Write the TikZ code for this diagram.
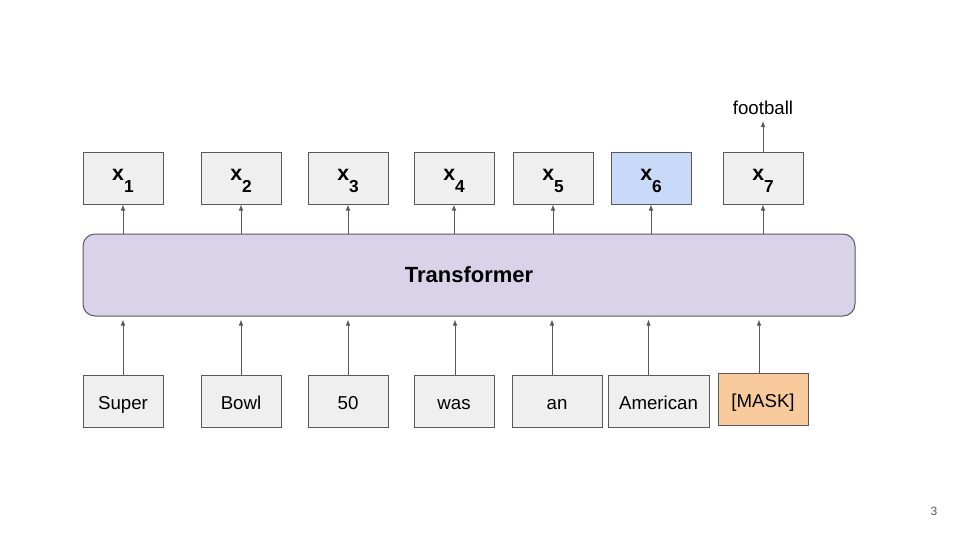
\documentclass[tikz,border=0pt]{standalone}
\usepackage{fontspec}
\setmainfont{Liberation Sans}
\usetikzlibrary{arrows.meta}
\definecolor{boxgray}{HTML}{EFEFEF}
\definecolor{linegray}{HTML}{595959}
\definecolor{bluefill}{HTML}{C9DAF8}
\definecolor{orangefill}{HTML}{F9CB9C}
\definecolor{purplefill}{HTML}{D9D2E9}
\newcommand{\xlab}[1]{\fontsize{16}{18}\selectfont\bfseries x\raisebox{-8.5pt}{\fontsize{13}{15}\selectfont #1}}
\tikzset{
  tokbox/.style={draw=linegray, fill=boxgray, line width=0.75pt, inner sep=0pt,
    minimum width=60pt, minimum height=39pt, font=\fontsize{14}{16}\selectfont,
    text height=12.4pt, text depth=0pt},
  outbox/.style={draw=linegray, fill=boxgray, line width=0.75pt, inner sep=0pt,
    minimum width=60pt, minimum height=39pt, text height=4pt, text depth=0pt},
  arr/.style={draw=linegray, line width=0.75pt, -{Latex[length=4.5pt,width=3.5pt]}},
}
\begin{document}
\begin{tikzpicture}[x=0.75pt,y=-0.75pt]
\useasboundingbox (0,0) rectangle (960,540);
% transformer
\node[draw=linegray, fill=purplefill, line width=0.75pt, rounded corners=9pt,
  minimum width=579pt, minimum height=61.5pt, inner sep=0pt,
  font=\fontsize{16.5}{18}\selectfont\bfseries] (tf) at (469,275) {Transformer};
% top outputs
\node[outbox] (x1) at (123,178) {\xlab{1}};
\node[outbox] (x2) at (241,178) {\xlab{2}};
\node[outbox] (x3) at (348,178) {\xlab{3}};
\node[outbox] (x4) at (454,178) {\xlab{4}};
\node[outbox] (x5) at (553,178) {\xlab{5}};
\node[outbox, fill=bluefill] (x6) at (651,178) {\xlab{6}};
\node[outbox] (x7) at (763,178) {\xlab{7}};
\node[font=\fontsize{14}{16}\selectfont, inner sep=0pt] (fb) at (763,108) {football};
\coordinate (fbend) at (763,121);
% bottom inputs
\node[tokbox] (t1) at (123,401) {Super};
\node[tokbox] (t2) at (241,401) {Bowl};
\node[tokbox] (t3) at (348,401) {50};
\node[tokbox] (t4) at (454,401) {was};
\node[tokbox, minimum width=67.5pt] (t5) at (557,401) {an};
\node[tokbox, minimum width=75.75pt] (t6) at (658.5,401) {American};
\node[tokbox, minimum width=67.5pt, fill=orangefill] (t7) at (763,399) {[MASK]};
% arrows transformer -> outputs
\foreach \i in {1,...,7}{
  \draw[arr] (tf.north -| x\i.south) -- (x\i.south);
}
\draw[arr] (x7.north) -- (fbend);
% arrows inputs -> transformer
\draw[arr, shorten >=2.25pt] (t1.north) -- (t1.north |- tf.south);
\draw[arr, shorten >=2.25pt] (t2.north) -- (t2.north |- tf.south);
\draw[arr, shorten >=2.25pt] (t3.north) -- (t3.north |- tf.south);
\draw[arr, shorten >=2.25pt] ([xshift=0.75pt]t4.north) -- ([xshift=0.75pt]t4.north |- tf.south);
\draw[arr, shorten >=2.25pt] ([xshift=-3.75pt]t5.north) -- ([xshift=-3.75pt]t5.north |- tf.south);
\draw[arr, shorten >=2.25pt] ([xshift=-7.5pt]t6.north) -- ([xshift=-7.5pt]t6.north |- tf.south);
\draw[arr, shorten >=2.25pt] ([xshift=-3pt]t7.north) -- ([xshift=-3pt]t7.north |- tf.south);
% page number
\node[font=\fontsize{9}{10}\selectfont, text=linegray, inner sep=0pt] (pn) at (934,511) {3};
\end{tikzpicture}
\end{document}
